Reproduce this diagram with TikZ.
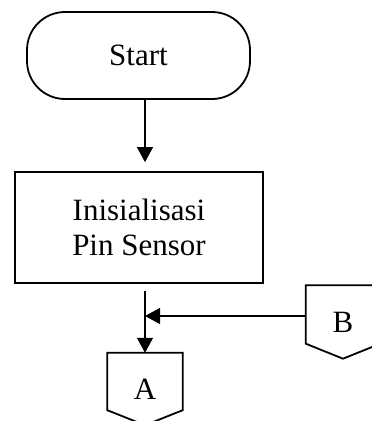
\documentclass[tikz,border=0pt]{standalone}
\usepackage{fontspec}
\setmainfont{Liberation Serif}
\usetikzlibrary{arrows.meta,calc}
\begin{document}
\begin{tikzpicture}[x=1pt,y=1pt,
  every node/.style={font=\fontsize{31}{35}\selectfont},
  border/.style={draw, line width=1.8pt},
  terminal/.style={border, rounded corners=38pt, minimum width=223pt, minimum height=87pt, inner sep=0pt},
  process/.style={border, minimum width=248pt, minimum height=111pt, align=center, inner sep=0pt},
  offpage/.style={minimum width=75pt, minimum height=72pt, inner sep=0pt},
  flow/.style={line width=1.1pt, -{Triangle[length=15pt,width=16pt]}}
]
\useasboundingbox (0,0) rectangle (372,-421);
\fill[white] (0,0) rectangle (372,-421);

% flowchart blocks
\node[terminal] (start) at (138.5,-55.5) {Start};
\node[process] (init) at (139,-227.5) {Inisialisasi\\Pin Sensor};
\node[offpage] (A) at (145,-389) {A};
\node[offpage, minimum width=74pt, minimum height=73pt] (B) at (343,-322) {B};

% off-page connector outlines
\draw[line width=1.8pt, line join=miter] (A.north west) -- (A.north east) -- ([yshift=15pt]A.south east)
  -- (A.south) -- ([yshift=15pt]A.south west) -- cycle;
\draw[line width=1.8pt, line join=miter] (B.north west) -- (B.north east) -- ([yshift=15pt]B.south east)
  -- (B.south) -- ([yshift=15pt]B.south west) -- cycle;

% connectors
\draw[flow, shorten >=9pt] (start.south -| A.north) -- (init.north -| A.north);
\draw[flow, shorten <=7pt] (init.south -| A.north) -- (A.north);
\draw[flow] ([yshift=6pt]B.west) -- ([yshift=6pt]B.west -| A.north);
\end{tikzpicture}
\end{document}
